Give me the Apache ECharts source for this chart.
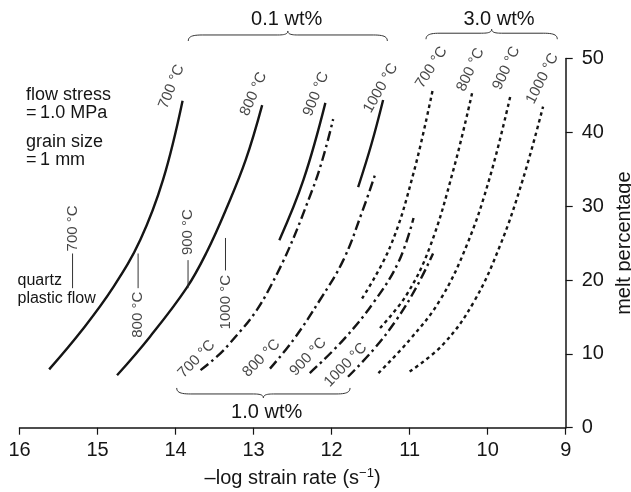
<!DOCTYPE html>
<html>
<head>
<meta charset="utf-8">
<title>Melt percentage vs strain rate</title>
<script src="https://cdn.jsdelivr.net/npm/echarts@6/dist/echarts.min.js"></script>
<style>
  html, body { margin: 0; padding: 0; background: #fff; }
  #chart { width: 631px; height: 492px; }
</style>
</head>
<body>
<div id="chart"></div>
<script>
// -log strain rate (x) vs melt percentage (y), one array per curve.
// 0.1 wt% water (solid)
const wt01_700 = [[15.62, 7.9], [15.20, 13.2], [14.80, 19.0], [14.45, 25.5], [14.16, 33.6], [13.91, 44.3]];
const wt01_800 = [[14.75, 7.1], [14.33, 12.3], [13.86, 18.9], [13.60, 23.8], [13.34, 29.9], [13.10, 36.3], [12.89, 43.7]];
const wt01_900 = [[12.67, 25.4], [12.36, 33.6], [12.08, 44.0]];
const wt01_1000 = [[11.66, 32.6], [11.49, 38.4], [11.34, 44.4]];
// 1.0 wt% water (dash-dot)
const wt10_700 = [[13.68, 7.8], [13.34, 11.0], [12.83, 18.2], [12.23, 32.7], [11.98, 41.8]];
const wt10_800 = [[12.79, 8.0], [12.49, 11.9], [12.15, 17.3], [11.85, 22.7], [11.61, 29.2], [11.43, 34.7]];
const wt10_900 = [[12.28, 7.4], [11.85, 11.9], [11.46, 17.0], [11.14, 22.5], [10.95, 28.4]];
const wt10_1000 = [[11.79, 6.9], [11.47, 10.5], [11.17, 14.6], [10.91, 19.1], [10.70, 23.6]];
// 3.0 wt% water (dotted)
const wt30_700 = [[11.61, 17.5], [11.25, 24.5], [10.95, 34.5], [10.70, 46.0]];
const wt30_800 = [[11.38, 13.5], [11.04, 18.0], [10.74, 24.5], [10.44, 34.9], [10.20, 45.3]];
const wt30_900 = [[11.40, 7.4], [11.00, 11.9], [10.61, 17.3], [10.265, 24.8], [9.97, 34.0], [9.71, 44.9]];
const wt30_1000 = [[11.00, 7.6], [10.57, 11.3], [10.18, 17.0], [9.84, 24.7], [9.55, 33.6], [9.29, 43.5]];

// quartz plastic flow markers: [x, yLow, yHigh]
const quartzFlow = [[15.32, 18.9, 23.6], [14.48, 18.9, 23.6], [13.84, 18.9, 22.7], [13.36, 21.3, 25.7]];

// curve labels: [text, x, y, angle]
const curveLabels = [
  ['700 °C', 14.05, 46.2, 68], ['800 °C', 13.00, 45.2, 66], ['900 °C', 12.20, 45.2, 68], ['1000 °C', 11.37, 46.0, 60],
  ['700 °C', 10.72, 48.8, 57], ['800 °C', 10.22, 48.5, 65], ['900 °C', 9.76, 48.7, 65], ['1000 °C', 9.30, 47.3, 63],
  ['700 °C', 13.73, 9.3, 46], ['800 °C', 12.90, 9.4, 45], ['900 °C', 12.30, 9.6, 47], ['1000 °C', 11.82, 8.5, 46],
  ['700 °C', 15.32, 27.0, 90], ['800 °C', 14.48, 15.3, 90], ['900 °C', 13.84, 26.5, 90], ['1000 °C', 13.36, 17.0, 90]
];

// group braces: [label, xStart, xEnd, lineY, labelX, labelY, hookDirection]
const groupBraces = [
  ['0.1 wt%', 13.837, 11.286, 53.2, 12.576, 55.24, 1],
  ['3.0 wt%', 10.79, 9.108, 53.44, 9.855, 55.34, 1],
  ['1.0 wt%', 13.985, 11.764, 4.57, 12.832, 2.09, -1]
];

const FONT = "'Liberation Sans', Arial, Helvetica, sans-serif";
const INK = '#151515';

const DASH = {
  solid: 'solid',
  dashdot: [10, 4, 2.5, 4],
  dotted: [3.5, 3.5]
};

const curves = [
  [wt01_700, 'solid'], [wt01_800, 'solid'], [wt01_900, 'solid'], [wt01_1000, 'solid'],
  [wt10_700, 'dashdot'], [wt10_800, 'dashdot'], [wt10_900, 'dashdot'], [wt10_1000, 'dashdot'],
  [wt30_700, 'dotted'], [wt30_800, 'dotted'], [wt30_900, 'dotted'], [wt30_1000, 'dotted']
];

const series = curves.map(([pts, kind]) => ({
  type: 'line',
  data: pts,
  smooth: 0.4,
  showSymbol: false,
  silent: true,
  lineStyle: { color: INK, width: 2.4, type: DASH[kind], cap: 'butt' }
}));

quartzFlow.forEach(([x, y0, y1]) => {
  series.push({
    type: 'line',
    data: [[x, y0], [x, y1]],
    showSymbol: false,
    silent: true,
    lineStyle: { color: '#333', width: 1, type: 'solid' }
  });
});

series.push({
  type: 'scatter',
  symbolSize: 0,
  silent: true,
  clip: false,
  data: curveLabels.map(([t, x, y, a]) => ({
    name: t,
    value: [x, y],
    label: { rotate: a }
  })),
  label: {
    show: true,
    position: 'inside',
    formatter: '{b}',
    color: INK,
    fontFamily: FONT,
    fontSize: 15
  }
});

const chart = echarts.init(document.getElementById('chart'), null, { renderer: 'canvas' });

chart.setOption({
  animation: false,
  backgroundColor: '#fff',
  grid: { left: 19.5, right: 65.3, top: 58.6, bottom: 64.3, containLabel: false, outerBoundsMode: 'none' },
  xAxis: {
    type: 'value',
    min: 9, max: 16, interval: 1,
    inverse: true,
    name: '–log strain rate (s{sup|−1})',
    nameLocation: 'middle',
    nameGap: 39,
    nameTextStyle: {
      color: INK, fontFamily: FONT, fontSize: 20, lineHeight: 24,
      rich: { sup: { fontSize: 13, fontFamily: FONT, color: INK, verticalAlign: 'top', lineHeight: 12 } }
    },
    axisLine: { show: true, lineStyle: { color: INK, width: 1.5 } },
    axisTick: { show: true, length: 7, lineStyle: { color: INK, width: 1.2 } },
    axisLabel: { color: INK, fontFamily: FONT, fontSize: 20, margin: 13 },
    splitLine: { show: false }
  },
  yAxis: {
    type: 'value',
    position: 'right',
    min: 0, max: 50, interval: 10,
    name: 'melt percentage',
    nameLocation: 'middle',
    nameRotate: 90,
    nameGap: 39,
    nameTextStyle: { color: INK, fontFamily: FONT, fontSize: 20 },
    axisLine: { show: true, lineStyle: { color: INK, width: 1.5 } },
    axisTick: { show: true, length: 7, lineStyle: { color: INK, width: 1.2 } },
    axisLabel: { color: INK, fontFamily: FONT, fontSize: 20, margin: 16 },
    splitLine: { show: false }
  },
  series: series
});

// Curly braces grouping the curves, sampled from cubic segments
function cubic(p0, c1, c2, p1, out) {
  for (let i = 1; i <= 12; i++) {
    const t = i / 12, u = 1 - t;
    out.push([
      u * u * u * p0[0] + 3 * u * u * t * c1[0] + 3 * u * t * t * c2[0] + t * t * t * p1[0],
      u * u * u * p0[1] + 3 * u * u * t * c1[1] + 3 * u * t * t * c2[1] + t * t * t * p1[1]
    ]);
  }
}

function bracePoints(x1, x2, yl, d) {
  const xm = (x1 + x2) / 2;
  const h = 6, c = 4;
  const pts = [[x1, yl + h * d]];
  cubic([x1, yl + h * d], [x1, yl + 1.5 * d], [x1 + 4, yl], [x1 + 14, yl], pts);
  pts.push([xm - 10, yl]);
  cubic([xm - 10, yl], [xm - 3, yl], [xm, yl - d], [xm, yl - c * d], pts);
  cubic([xm, yl - c * d], [xm, yl - d], [xm + 3, yl], [xm + 10, yl], pts);
  pts.push([x2 - 14, yl]);
  cubic([x2 - 14, yl], [x2 - 4, yl], [x2, yl + 1.5 * d], [x2, yl + h * d], pts);
  return pts;
}

const graphics = [];
groupBraces.forEach(([label, xa, xb, ly, lx, lyy, d]) => {
  const p1 = chart.convertToPixel({ gridIndex: 0 }, [xa, ly]);
  const p2 = chart.convertToPixel({ gridIndex: 0 }, [xb, ly]);
  const pl = chart.convertToPixel({ gridIndex: 0 }, [lx, lyy]);
  graphics.push({
    type: 'polyline',
    silent: true,
    shape: { points: bracePoints(Math.min(p1[0], p2[0]), Math.max(p1[0], p2[0]), p1[1], d) },
    style: { fill: null, stroke: '#333', lineWidth: 1 }
  });
  graphics.push({
    type: 'text',
    silent: true,
    x: pl[0], y: pl[1],
    style: { text: label, fill: INK, fontFamily: FONT, fontSize: 20, align: 'center', verticalAlign: 'middle' }
  });
});

const notes = [
  ['flow stress', 26, 95, 18],
  ['=\u20091.0 MPa', 26, 113.5, 18],
  ['grain size', 26, 142, 18],
  ['=\u20091 mm', 26, 160, 18],
  ['quartz', 17.5, 281, 16],
  ['plastic flow', 17.5, 298.5, 16]
];
notes.forEach(([t, x, y, fs]) => {
  graphics.push({
    type: 'text',
    silent: true,
    x: x, y: y,
    style: { text: t, fill: INK, fontFamily: FONT, fontSize: fs, align: 'left', verticalAlign: 'middle' }
  });
});

chart.setOption({ graphic: graphics });
</script>
</body>
</html>
